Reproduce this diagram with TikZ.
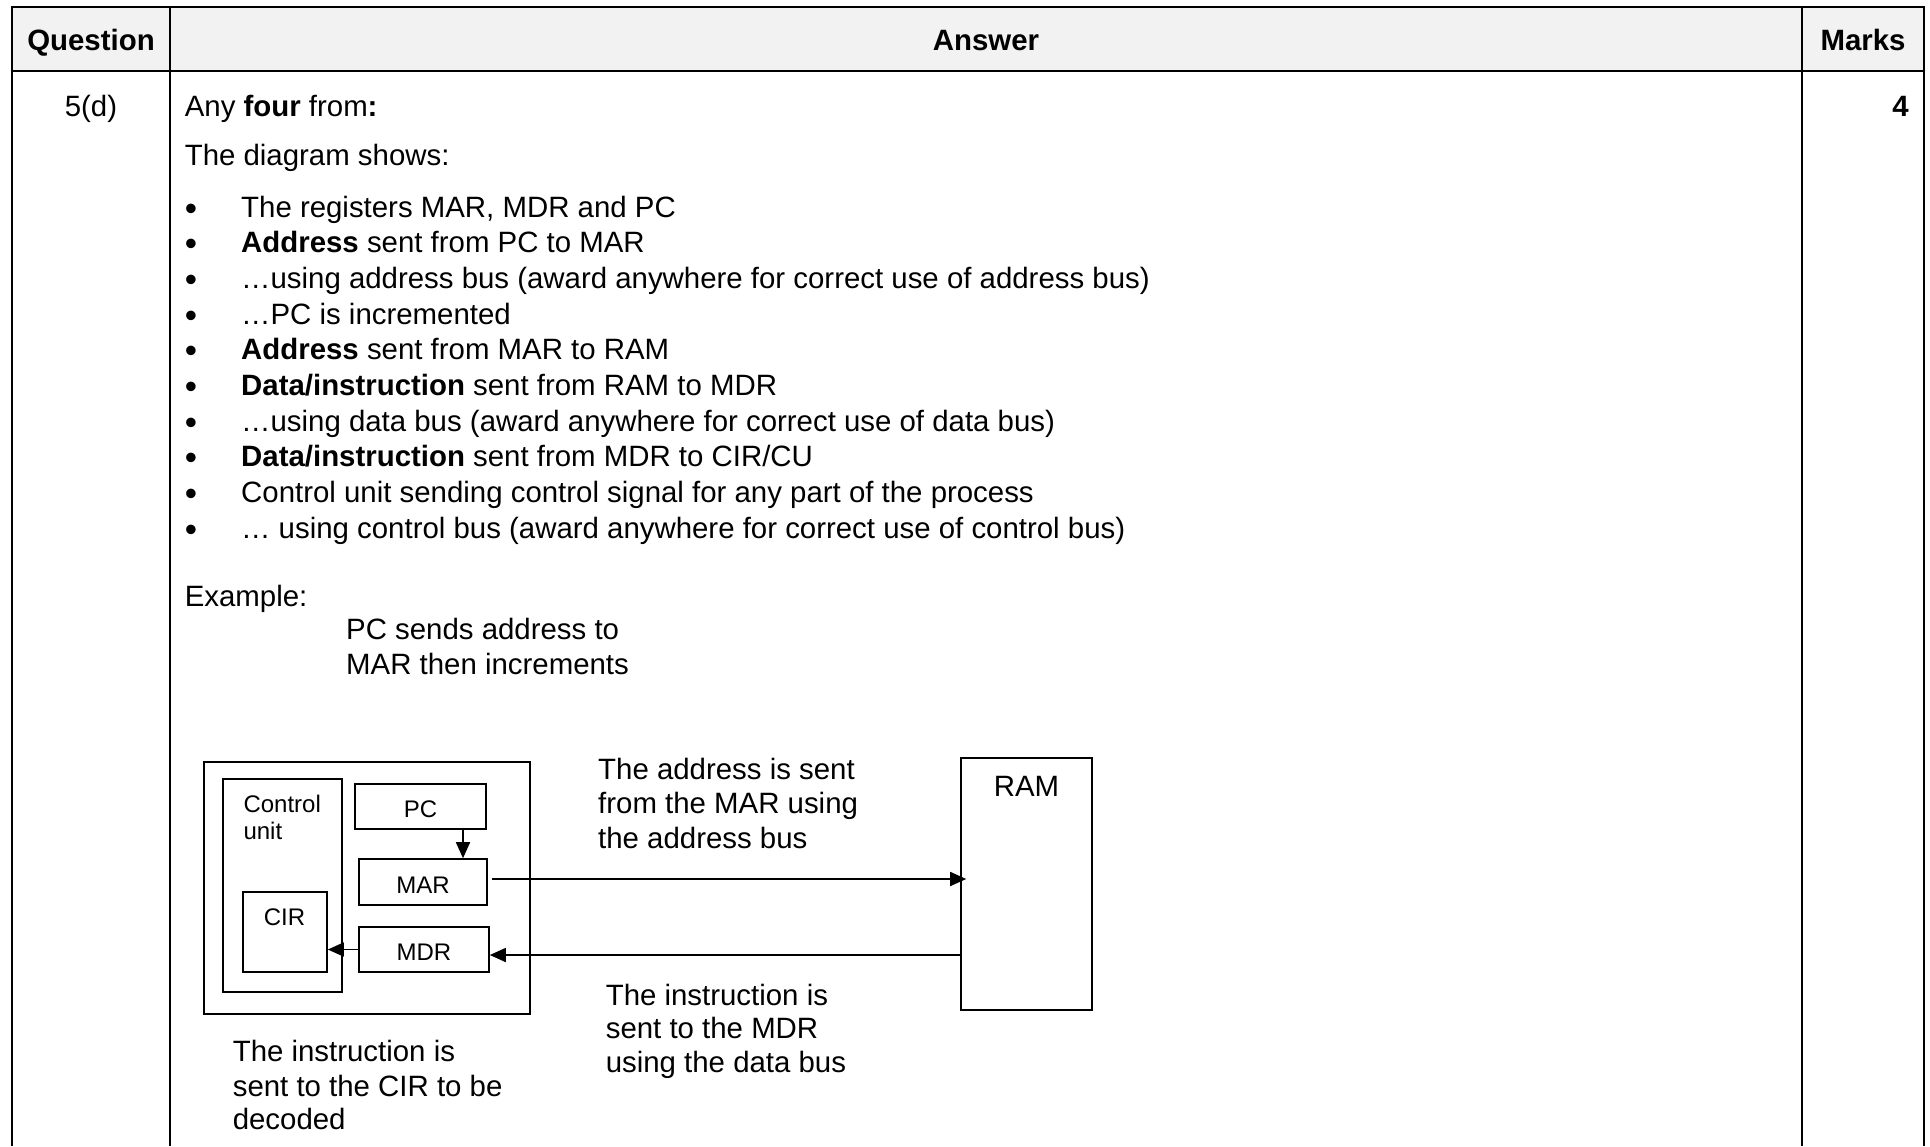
\documentclass[tikz,border=0pt]{standalone}
\usepackage{fontspec}
\setmainfont{Liberation Sans}
\usetikzlibrary{arrows.meta,calc}
\definecolor{hdrfill}{HTML}{F2F2F2}
\begin{document}
\begin{tikzpicture}[x=1pt,y=-1pt,
  tblline/.style={line width=2pt},
  big/.style={inner sep=0pt, font=\fontsize{29.4}{34}\selectfont},
  bigb/.style={inner sep=0pt, font=\fontsize{29.4}{34}\selectfont\bfseries},
  bul/.style={inner sep=0pt, font=\fontsize{35}{34}\selectfont},
  sm/.style={inner sep=0pt, font=\fontsize{24}{28}\selectfont},
  regbox/.style={draw, line width=1.6pt, inner sep=0pt},
  regtext/.style={text height=22pt, text depth=0pt},
  arr/.style={line width=1.6pt, -{Triangle[length=16pt,width=14pt]}}]
\useasboundingbox (0,0) rectangle (1930,1146);
% table
\fill[hdrfill] (12,7.4) rectangle (1924,71.4);
\draw[tblline] (11,7.4) -- (1925,7.4);
\draw[tblline] (11,71.4) -- (1925,71.4);
\draw[tblline] (12,7.4) -- (12,1146);
\draw[tblline] (170,7.4) -- (170,1146);
\draw[tblline] (1802,7.4) -- (1802,1146);
\draw[tblline] (1924,7.4) -- (1924,1146);
\node[bigb, anchor=base] (hq) at (91,50) {Question};
\node[bigb, anchor=base] (ha) at (986,50) {Answer};
\node[bigb, anchor=base] (hm) at (1863,50) {Marks};
\node[big, anchor=base] (qn) at (91,116) {5(d)};
\node[bigb, anchor=base east] (mk) at (1909,116) {4};
% answer text
\node[big, anchor=base west] (l1) at (184.6,116) {Any \textbf{four} from\textbf{:}};
\node[big, anchor=base west] (l2) at (184.6,165.6) {The diagram shows:};
\node[bul, anchor=base] (d1) at (191,220.0) {•};
\node[bul, anchor=base] (d2) at (191,255.7) {•};
\node[bul, anchor=base] (d3) at (191,291.4) {•};
\node[bul, anchor=base] (d4) at (191,327.1) {•};
\node[bul, anchor=base] (d5) at (191,362.8) {•};
\node[bul, anchor=base] (d6) at (191,398.5) {•};
\node[bul, anchor=base] (d7) at (191,434.2) {•};
\node[bul, anchor=base] (d8) at (191,469.9) {•};
\node[bul, anchor=base] (d9) at (191,505.6) {•};
\node[bul, anchor=base] (d10) at (191,541.3) {•};
\node[big, anchor=base west] (t1) at (241,217.0) {The registers MAR, MDR and PC};
\node[big, anchor=base west] (t2) at (241,252.7) {\textbf{Address} sent from PC to MAR};
\node[big, anchor=base west] (t3) at (241,288.4) {…using address bus (award anywhere for correct use of address bus)};
\node[big, anchor=base west] (t4) at (241,324.1) {…PC is incremented};
\node[big, anchor=base west] (t5) at (241,359.8) {\textbf{Address} sent from MAR to RAM};
\node[big, anchor=base west] (t6) at (241,395.5) {\textbf{Data/instruction} sent from RAM to MDR};
\node[big, anchor=base west] (t7) at (241,431.2) {…using data bus (award anywhere for correct use of data bus)};
\node[big, anchor=base west] (t8) at (241,466.9) {\textbf{Data/instruction} sent from MDR to CIR/CU};
\node[big, anchor=base west] (t9) at (241,502.6) {Control unit sending control signal for any part of the process};
\node[big, anchor=base west] (t10) at (241,538.3) {… using control bus (award anywhere for correct use of control bus)};
\node[big, anchor=base west] (ex) at (184.6,606) {Example:};
\node[big, anchor=base west] (ex1) at (346,639.5) {PC sends address to};
\node[big, anchor=base west] (ex2) at (346,674) {MAR then increments};
% diagram
\node[regbox, minimum width=326pt, minimum height=252pt] (cpu) at (367,888) {};
\node[regbox, minimum width=119pt, minimum height=213pt] (cu) at (282.5,885.5) {};
\node[sm, anchor=base west] (cut1) at (243.3,812.7) {Control};
\node[sm, anchor=base west] (cut2) at (243.3,839) {unit};
\node[regbox, sm, regtext, minimum width=131pt, minimum height=45pt] (pc) at (420.5,806.5) {PC};
\node[regbox, sm, regtext, minimum width=128pt, minimum height=46pt] (mar) at (423,882) {MAR};
\node[regbox, sm, regtext, minimum width=130pt, minimum height=45pt] (mdr) at (424,949.5) {MDR};
\node[regbox, minimum width=84pt, minimum height=80pt] (cir) at (285,932) {};
\node[sm, anchor=base] (cirt) at (284.5,925) {CIR};
\node[regbox, minimum width=131pt, minimum height=252.5pt] (ram) at (1026.5,884) {};
\node[big, anchor=base] (ramt) at (1026.5,796) {RAM};
\coordinate (xpc) at (463,0);
\coordinate (ya) at (0,879);
\coordinate (yd) at (0,955);
\draw[arr] (pc.south -| xpc) -- (mar.north -| xpc);
\draw[arr, shorten <=4pt, shorten >=-6pt] (mar.east |- ya) -- (ram.west |- ya);
\draw[arr] (ram.west |- yd) -- (mdr.east |- yd);
\draw[arr] (mdr.west) -- (cir.east |- mdr.west);
% diagram labels
\node[big, anchor=base west] (a1) at (598,779) {The address is sent};
\node[big, anchor=base west] (a2) at (598,813.5) {from the MAR using};
\node[big, anchor=base west] (a3) at (598,848) {the address bus};
\node[big, anchor=base west] (b1) at (605.6,1005) {The instruction is};
\node[big, anchor=base west] (b2) at (605.6,1038.5) {sent to the MDR};
\node[big, anchor=base west] (b3) at (605.6,1072) {using the data bus};
\node[big, anchor=base west] (c1) at (232.6,1061.6) {The instruction is};
\node[big, anchor=base west] (c2) at (232.6,1096) {sent to the CIR to be};
\node[big, anchor=base west] (c3) at (232.6,1129) {decoded};
\end{tikzpicture}
\end{document}
